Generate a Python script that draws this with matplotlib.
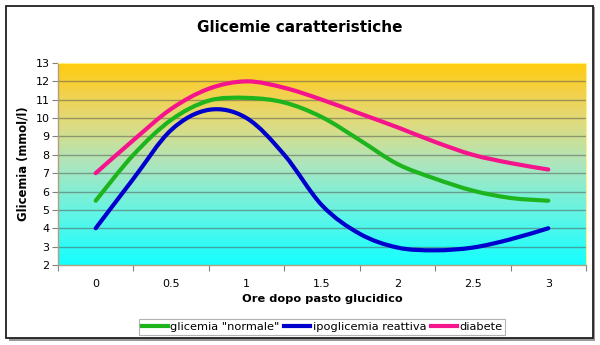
import numpy as np
import matplotlib.pyplot as plt
from matplotlib.path import Path
from matplotlib.patches import PathPatch, Rectangle
from matplotlib.lines import Line2D
from matplotlib.colors import LinearSegmentedColormap

# ore dopo il pasto (ogni quarto d'ora)
ore = [0, 0.25, 0.5, 0.75, 1, 1.25, 1.5, 1.75, 2, 2.25, 2.5, 2.75, 3]

normale = [5.5, 8.0, 9.9, 10.95, 11.1, 10.85, 10.05, 8.8, 7.5, 6.7, 6.05, 5.65, 5.5]
ipo = [4.0, 6.7, 9.35, 10.45, 10.0, 8.0, 5.25, 3.7, 2.95, 2.8, 2.95, 3.4, 4.0]
diabete = [7.0, 8.8, 10.5, 11.6, 12.0, 11.65, 11.0, 10.25, 9.5, 8.7, 8.0, 7.55, 7.2]

serie = [('glicemia "normale"', normale, '#1eb41e'),
         ('ipoglicemia reattiva', ipo, '#0000cc'),
         ('diabete', diabete, '#f5148c')]

xtick_lab = ['0', '0.5', '1', '1.5', '2', '2.5', '3']
ytick_val = list(range(2, 14))


def curva_liscia(x, y):
    # bezier tipo Catmull-Rom, come le linee smussate di Excel
    p = np.column_stack([x, y]).astype(float)
    p = np.vstack([p[0], p, p[-1]])
    verts = [p[1]]
    codes = [Path.MOVETO]
    for i in range(1, len(p) - 2):
        c1 = p[i] + (p[i + 1] - p[i - 1]) / 6
        c2 = p[i + 1] - (p[i + 2] - p[i]) / 6
        verts += [c1, c2, p[i + 1]]
        codes += [Path.CURVE4] * 3
    return Path(verts, codes)


fig = plt.figure(figsize=(6, 3.45), dpi=100)

# cornice esterna con ombra
fig.patches.append(Rectangle((9 / 600, 4 / 345), 586 / 600, 334 / 345, transform=fig.transFigure,
                             facecolor='#9a9a9a', edgecolor='none', zorder=0))
fig.patches.append(Rectangle((6 / 600, 7 / 345), 587 / 600, 332 / 345, transform=fig.transFigure,
                             facecolor='white', edgecolor='#202020', lw=1.3, zorder=1))

ax = fig.add_axes([58 / 600, 80 / 345, 528 / 600, 202 / 345])
ax.set_zorder(2)
ax.set_xlim(-0.25, 3.25)
ax.set_ylim(2, 13)

# sfondo sfumato: oro in alto, ciano in basso
cmap = LinearSegmentedColormap.from_list('sfondo', [
    (0.0, (0.08, 1.0, 1.0)),
    (0.25, (0.38, 0.96, 0.90)),
    (0.5, (0.68, 0.90, 0.74)),
    (0.7, (0.87, 0.86, 0.50)),
    (0.85, (0.95, 0.82, 0.30)),
    (1.0, (1.0, 0.80, 0.05))])
grad = np.linspace(0, 1, 256).reshape(-1, 1)
ax.imshow(grad, aspect='auto', cmap=cmap, origin='lower',
          extent=[-0.25, 3.25, 2, 13], zorder=0)

for v in ytick_val[1:-1]:
    ax.axhline(v, color='#505050', lw=1, alpha=0.5, zorder=1)

for nome, y, col in serie:
    ax.add_patch(PathPatch(curva_liscia(ore, y), facecolor='none', edgecolor=col,
                           lw=3, capstyle='round', joinstyle='round', zorder=3))

ax.set_yticks(ytick_val)
ax.set_yticklabels([str(v) for v in ytick_val], fontsize=8)
ax.set_xticks(np.arange(-0.25, 3.26, 0.5))
ax.set_xticklabels([])
ax.set_xticks(np.arange(0, 3.01, 0.5), minor=True)
ax.set_xticklabels(xtick_lab, minor=True, fontsize=8)
ax.tick_params(axis='x', which='minor', length=0, pad=10)
ax.tick_params(axis='x', which='major', length=4, color='#808080')
ax.tick_params(axis='y', length=4, color='#808080', pad=2)

for s in ['left', 'bottom']:
    ax.spines[s].set_color('#b0a080')
    ax.spines[s].set_linewidth(1)
for s in ['top', 'right']:
    ax.spines[s].set_color('#fff080')
    ax.spines[s].set_linewidth(0.8)

ax.set_xlabel('Ore dopo pasto glucidico', fontsize=8.2, fontweight='bold', labelpad=4)
ax.set_ylabel('Glicemia (mmol/l)', fontsize=8.4, fontweight='bold', labelpad=4)

fig.text(0.5, 1 - 27 / 345, 'Glicemie caratteristiche', ha='center', va='center',
         fontsize=11, fontweight='bold')

handles = [Line2D([], [], color=c, lw=3) for _, _, c in serie]
leg = fig.legend(handles, [n for n, _, _ in serie], loc='center',
                 bbox_to_anchor=(322 / 600, 1 - 327 / 345), ncol=3, fontsize=8.2,
                 frameon=True, fancybox=False, handlelength=2.3, handletextpad=0.2,
                 columnspacing=0.4, borderpad=0.25, borderaxespad=0)
leg.get_frame().set_edgecolor('#a0a0a0')
leg.get_frame().set_linewidth(0.8)

fig.savefig('out.png', dpi=100)
